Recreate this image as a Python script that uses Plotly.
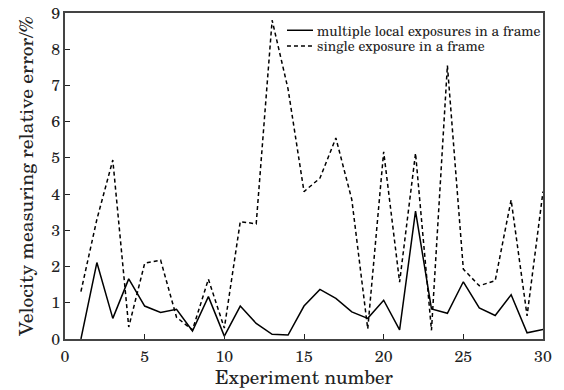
import plotly.graph_objects as go

experiment = list(range(1, 31))
multiple_local = [0.0, 2.11, 0.57, 1.66, 0.91, 0.73, 0.82, 0.22, 1.17, 0.08,
                  0.91, 0.43, 0.13, 0.11, 0.91, 1.37, 1.12, 0.75, 0.57, 1.07,
                  0.25, 3.53, 0.83, 0.71, 1.58, 0.86, 0.65, 1.22, 0.17, 0.26]
single = [1.31, 3.3, 4.94, 0.33, 2.09, 2.18, 0.6, 0.25, 1.65, 0.3,
          3.24, 3.18, 8.8, 6.9, 4.07, 4.44, 5.55, 3.85, 0.28, 5.17,
          1.57, 5.13, 0.24, 7.55, 1.93, 1.47, 1.61, 3.84, 0.64, 4.07]
legend_labels = ["multiple local exposures in a frame", "single exposure in a frame"]

font_family = "Century Schoolbook L, TeX Gyre Schola, DejaVu Serif, serif"
dark = "#222"

fig = go.Figure()
fig.add_trace(go.Scatter(x=experiment, y=multiple_local, mode="lines",
                         name=legend_labels[0],
                         line=dict(color="black", width=1.5)))
fig.add_trace(go.Scatter(x=experiment, y=single, mode="lines",
                         name=legend_labels[1],
                         line=dict(color="black", width=1.5, dash="4px,3px")))

axis_common = dict(showgrid=False, zeroline=False, showline=True, mirror=True,
                   linecolor="#444", linewidth=1.5, ticks="inside", ticklen=5,
                   tickcolor=dark, tickwidth=1.2, automargin=False,
                   tickfont=dict(size=16, color=dark, family=font_family))

# legend drawn as keys + labels in paper coordinates
legend_rows = [(0.947, "solid"), (0.899, "4px,3px")]
for (yy, dash), label in zip(legend_rows, legend_labels):
    fig.add_shape(type="line", xref="paper", yref="paper",
                  x0=0.4644, x1=0.5188, y0=yy, y1=yy,
                  line=dict(color="black", width=1.5, dash=dash))
    fig.add_annotation(xref="paper", yref="paper", x=0.523, y=yy,
                       xanchor="left", yanchor="middle", showarrow=False,
                       text=label,
                       font=dict(size=13.8, family=font_family, color=dark))

fig.update_layout(
    width=564, height=390,
    margin=dict(l=65, r=21, t=13, b=51),
    paper_bgcolor="white", plot_bgcolor="white",
    font=dict(family=font_family, color=dark),
    showlegend=False,
    xaxis=dict(range=[0, 30], tickvals=[0, 5, 10, 15, 20, 25, 30],
               ticklabelstandoff=2,
               title=dict(text="Experiment number", standoff=7,
                          font=dict(size=19, family=font_family, color=dark)),
               **axis_common),
    yaxis=dict(range=[0, 9], tickvals=list(range(10)),
               title=dict(text="Velocity measuring relative error/%", standoff=12,
                          font=dict(size=19.5, family=font_family, color=dark)),
               **axis_common),
)

fig.write_html("out.html", config={"displayModeBar": False},
               post_script="document.body.style.margin='0';")
